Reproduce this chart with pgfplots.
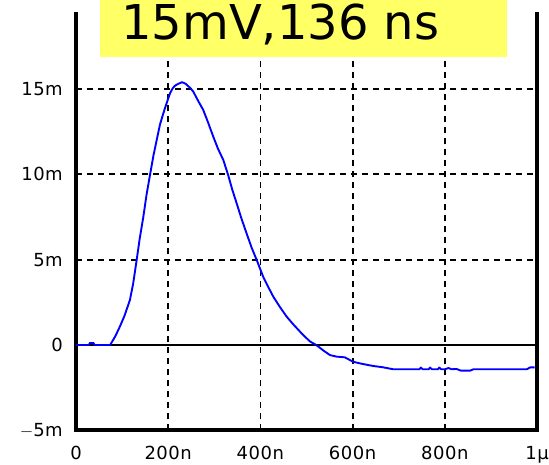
\documentclass[border=0pt]{standalone}
\usepackage{pgfplots}
\pgfplotsset{compat=1.18}
\usepackage{fontspec}
\setmainfont{DejaVu Sans}
\newfontfamily\tickfont[LetterSpace=3]{DejaVu Sans}
\definecolor{titleyellow}{RGB}{255,255,102}
\begin{document}
\begin{tikzpicture}
\begin{axis}[
  scale only axis,
  width=461pt, height=435.3pt,
  xmin=0, xmax=1000, ymin=-5, ymax=20.5,
  xtick={0,200,400,600,800,1000},
  xticklabels={0,200n,400n,600n,800n,1\textmu},
  ytick={-5,0,5,10,15},
  yticklabels={$-$5m,0,5m,10m,15m},
  major tick length=0pt,
  axis line style={line width=4pt, black},
  grid=major,
  major grid style={black, line width=1.8pt, dash pattern=on 6pt off 5pt},
  tick label style={font=\fontsize{18}{20}\selectfont\tickfont},
  xticklabel style={anchor=north, inner sep=0pt, yshift=-16pt},
  yticklabel style={anchor=east, inner sep=0pt, xshift=-13pt},
  clip=false,
]
\draw[black, line width=1.5pt] (axis cs:0,0) -- (axis cs:1000,0);
\addplot[blue, line width=1.9pt, line join=round] coordinates {
(0,0) (28,0) (30,0.12) (38,0.12) (40,0) (74,0) (85,0.5) (95,1.07) (105,1.7)
(117,2.64) (124,3.6) (131.6,4.98) (138,6.2) (146,7.5) (153,8.8) (160.5,9.96)
(168,11.1) (175,12.0) (182,12.9) (189.4,13.57) (197,14.2) (204,14.75) (210,15.05)
(215,15.2) (222,15.3) (230,15.4) (238,15.3) (248,15.05) (254.5,14.84) (265,14.3)
(276,13.77) (287,13.0) (297.8,12.2) (308,11.5) (319.5,10.84) (330,9.96) (339,9.1)
(348.5,8.3) (359,7.4) (370,6.54) (381,5.7) (392,4.98) (406,4.0) (417,3.4)
(428,2.83) (442,2.24) (457,1.66) (470,1.25) (486,0.78) (498,0.45) (508,0.2)
(518,0.05) (526,-0.1) (538,-0.35) (551,-0.59) (565,-0.68) (583,-0.72) (592,-0.85)
(601,-0.98) (620,-1.1) (645,-1.23) (665,-1.3) (688,-1.42) (720,-1.42) (745,-1.42)
(748,-1.32) (752,-1.42) (765,-1.42) (768,-1.32) (772,-1.42) (785,-1.42) (788,-1.32)
(792,-1.42) (800,-1.42) (808,-1.35) (815,-1.42) (825,-1.4) (835,-1.5) (855,-1.5)
(862,-1.42) (900,-1.42) (950,-1.42) (978,-1.42) (985,-1.31) (995,-1.31)
};
\coordinate (bbl) at (axis cs:-164.86,-6.971);
\coordinate (btr) at (axis cs:1026.0,20.211);
\coordinate (wbl) at (axis cs:-200,19.48);
\coordinate (wtr) at (axis cs:1100,21.5);
\coordinate (ybl) at (axis cs:52.06,16.87);
\coordinate (ytr) at (axis cs:934.9,21.5);
\coordinate (tpos) at (axis cs:97.6,17.9);
\end{axis}
\fill[white] (wbl) rectangle (wtr);
\fill[titleyellow] (ybl) rectangle (ytr);
\node[anchor=base west, inner sep=0pt, font=\fontsize{48}{50}\selectfont] at (tpos) {15mV,136 ns};
\pgfresetboundingbox
\useasboundingbox (bbl) rectangle (btr);
\end{tikzpicture}
\end{document}
